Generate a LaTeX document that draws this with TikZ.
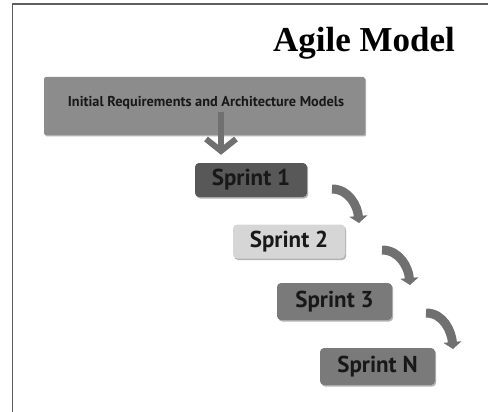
\documentclass[tikz,border=0pt]{standalone}
\usepackage{fontspec}
\setmainfont{Liberation Serif}
\setsansfont{PT Sans}
\usetikzlibrary{arrows.meta,shadows}
\definecolor{initfill}{RGB}{140,140,140}
\definecolor{sonefill}{RGB}{88,88,88}
\definecolor{stwofill}{RGB}{214,214,214}
\definecolor{sthreefill}{RGB}{122,122,122}
\definecolor{arrowgray}{RGB}{112,112,112}
\definecolor{txtdark}{RGB}{24,24,24}
\definecolor{framegray}{RGB}{95,95,95}
\tikzset{
  boxbase/.style={rectangle, rounded corners=4pt, inner sep=0pt, text=txtdark,
    font=\sffamily\bfseries,
    drop shadow={shadow xshift=1.2pt, shadow yshift=-1.5pt, opacity=0.3, fill=black}},
  initbox/.style={boxbase, fill=initfill, rounded corners=2pt, minimum width=321pt, minimum height=58pt},
  sprintbox/.style={boxbase, minimum width=112pt, minimum height=34pt, font=\sffamily\bfseries\fontsize{23}{25}\selectfont},
  downarrow/.style={draw=arrowgray, line width=6pt, -{Straight Barb[length=12pt,width=30pt]}},
  bendarrow/.style={draw=arrowgray, line width=9pt, -{Triangle[length=7pt,width=18pt]}},
  titletext/.style={font=\rmfamily\bfseries\fontsize{35}{40}\selectfont, text=black, inner sep=0pt},
  initlabel/.style={font=\sffamily\bfseries\fontsize{14.3}{16}\selectfont, text=txtdark, inner sep=0pt}
}
\begin{document}
\begin{tikzpicture}[x=1pt,y=-1pt]
\useasboundingbox (0,0) rectangle (488,412);
% frame
\draw[framegray, line width=1.5pt] (12.5,412) -- (12.5,4) -- (488,4);
% title
\node[titletext, anchor=base] (title) at (364,52) {Agile Model};
% initial box
\node[initbox] (init) at (204.5,106) {};
\node[initlabel] (initlbl) at (206,103) {Initial Requirements and Architecture Models};
% sprints
\node[sprintbox, fill=sonefill] (s1) at (251,180) {Sprint 1};
\node[sprintbox, fill=stwofill] (s2) at (289,241.5) {Sprint 2};
\node[sprintbox, fill=sthreefill, minimum width=115pt, minimum height=37pt] (s3) at (334.5,301.5) {Sprint 3};
\node[sprintbox, fill=sthreefill, minimum width=115pt, minimum height=37pt] (sN) at (377.5,366.5) {Sprint N};
% down arrow
\coordinate (d0) at (221,112);
\draw[downarrow] (d0) -- ([yshift=8pt]s1.north -| d0);
% bent arrows
\coordinate (b1a) at (332,189);
\coordinate (b1b) at (359,223);
\draw[bendarrow] (b1a) to[out=0,in=95] (b1b);
\coordinate (b2a) at (382,250);
\coordinate (b2b) at (410,285);
\draw[bendarrow] (b2a) to[out=0,in=95] (b2b);
\coordinate (b3a) at (426,313);
\coordinate (b3b) at (453,349);
\draw[bendarrow] (b3a) to[out=0,in=95] (b3b);
\end{tikzpicture}
\end{document}
